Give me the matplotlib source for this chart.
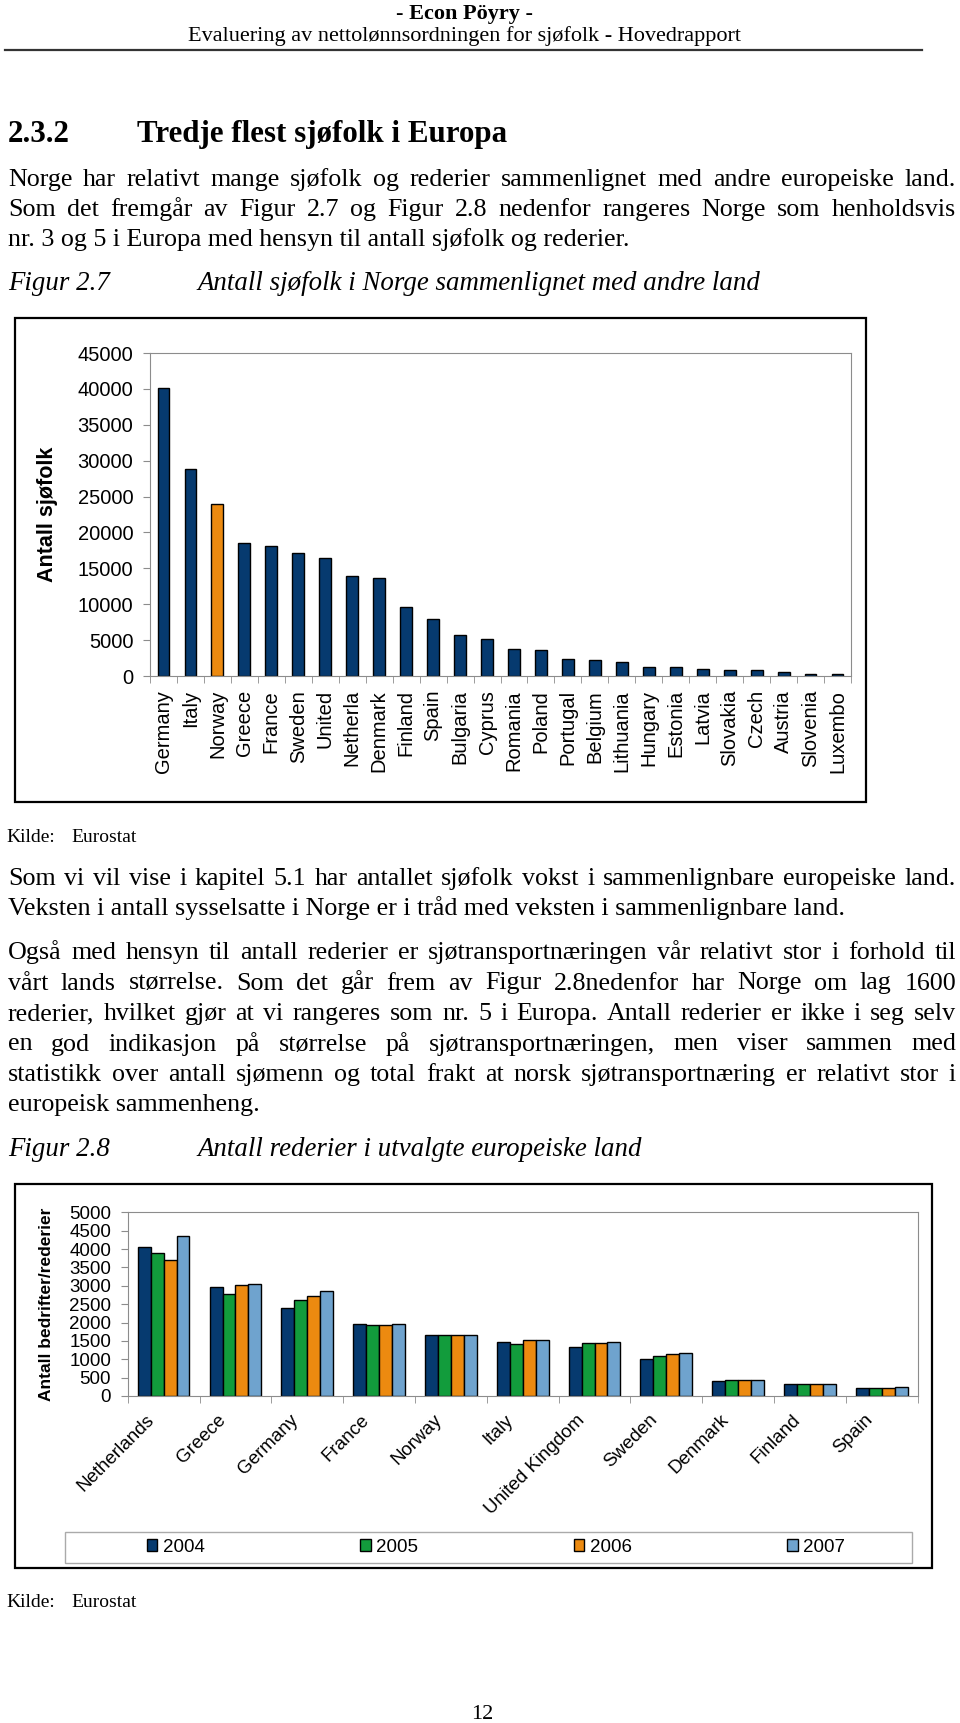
import numpy as np
import matplotlib.pyplot as plt
from matplotlib.patches import Rectangle
from matplotlib.lines import Line2D
from matplotlib.transforms import ScaledTranslation

W, H, DPI = 960, 1723, 100
SERIF = "Liberation Serif"
SANS = "Liberation Sans"
plt.rcParams["font.family"] = [SANS, "DejaVu Sans"]

NAVY = "#063A6F"
ORANGE = "#EC8A10"
GREEN = "#129C3C"
LIGHT = "#6FA3CE"
GREY = "#8C8C8C"

# Figur 2.7 - antall sjøfolk
land = ["Germany", "Italy", "Norway", "Greece", "France", "Sweden", "United",
        "Netherla", "Denmark", "Finland", "Spain", "Bulgaria", "Cyprus",
        "Romania", "Poland", "Portugal", "Belgium", "Lithuania", "Hungary",
        "Estonia", "Latvia", "Slovakia", "Czech", "Austria", "Slovenia", "Luxembo"]
sjofolk = [40100, 28900, 23900, 18550, 18100, 17150, 16450, 13900, 13680, 9650,
           8000, 5680, 5210, 3820, 3560, 2370, 2160, 1960, 1260, 1260, 1020,
           790, 790, 560, 330, 330]

# Figur 2.8 - antall rederier
land2 = ["Netherlands", "Greece", "Germany", "France", "Norway", "Italy",
         "United Kingdom", "Sweden", "Denmark", "Finland", "Spain"]
aar = ["2004", "2005", "2006", "2007"]
r2004 = [4065, 2975, 2405, 1960, 1670, 1460, 1345, 1015, 410, 330, 215]
r2005 = [3885, 2770, 2615, 1925, 1670, 1415, 1435, 1090, 435, 330, 210]
r2006 = [3700, 3015, 2720, 1925, 1670, 1525, 1435, 1135, 435, 330, 210]
r2007 = [4355, 3050, 2870, 1960, 1670, 1525, 1460, 1160, 435, 330, 255]

fig = plt.figure(figsize=(W / DPI, H / DPI), dpi=DPI)
fig.patch.set_facecolor("white")
rend = fig.canvas.get_renderer()


def fx(x):
    return x / W


def fy(y):
    return 1 - y / H


BODY = 18.7
CAP = 19.4


def line(x, y, s, size=BODY, width=None, **kw):
    if width is None:
        fig.text(fx(x), fy(y), s, fontsize=size, family=SERIF, va="baseline", **kw)
        return
    words = s.split(" ")
    objs = [fig.text(fx(x), fy(y), w, fontsize=size, family=SERIF, va="baseline", **kw)
            for w in words]
    widths = [o.get_window_extent(rend).width for o in objs]
    gap = (width - sum(widths)) / (len(words) - 1)
    pos = x
    for o, w in zip(objs, widths):
        o.set_x(fx(pos))
        pos += w + gap


def avsnitt(lines, y0, step, left=8, right=956):
    for i, s in enumerate(lines):
        last = i == len(lines) - 1
        line(left, y0 + i * step, s, width=None if last else right - left)


# topptekst
fig.text(fx(464), fy(19), "- Econ Pöyry -", fontsize=16, family=SERIF,
         weight="bold", ha="center", va="baseline")
fig.text(fx(464), fy(41), "Evaluering av nettolønnsordningen for sjøfolk - Hovedrapport",
         fontsize=16, family=SERIF, ha="center", va="baseline")
fig.add_artist(Line2D([fx(5), fx(922)], [fy(50), fy(50)], color="#333333", lw=1.6))

line(8, 142, "2.3.2", size=22.3, weight="bold")
line(137, 142, "Tredje flest sjøfolk i Europa", size=22.3, weight="bold")

avsnitt(["Norge har relativt mange sjøfolk og rederier sammenlignet med andre europeiske land.",
         "Som det fremgår av Figur 2.7 og Figur 2.8 nedenfor rangeres Norge som henholdsvis",
         "nr. 3 og 5 i Europa med hensyn til antall sjøfolk og rederier."], 186, 30)

line(8, 290, "Figur 2.7", size=CAP, style="italic")
line(197, 290, "Antall sjøfolk i Norge sammenlignet med andre land", size=CAP, style="italic")

# Figur 2.7
fig.add_artist(Rectangle((fx(15), fy(802)), (866 - 15) / W, (802 - 318) / H,
                         transform=fig.transFigure, fill=False, edgecolor="black", lw=1.6))
ax1 = fig.add_axes([fx(150), fy(676), (851 - 150) / W, (676 - 353) / H])
x = np.arange(len(land))
farger = [ORANGE if l == "Norway" else NAVY for l in land]
ax1.bar(x, sjofolk, width=0.44, color=farger, edgecolor="black", linewidth=1)
ax1.set_xlim(-0.5, len(land) - 0.5)
ax1.set_ylim(0, 45000)
ax1.set_yticks(np.arange(0, 45001, 5000))
ax1.set_xticks(x)
ax1.set_xticklabels(land, rotation=90, fontsize=14.5)
ax1.set_xticks(np.arange(-0.5, len(land), 1), minor=True)
ax1.tick_params(axis="x", which="major", length=0, pad=10)
ax1.tick_params(axis="x", which="minor", length=5, color=GREY)
ax1.tick_params(axis="y", length=5, color=GREY, pad=7, labelsize=14.5)
for s in ax1.spines.values():
    s.set_color(GREY)
fig.text(fx(48), fy(514), "Antall sjøfolk", rotation=90, fontsize=15.5,
         weight="bold", ha="center", va="center")

line(6, 842, "Kilde:", size=14)
line(71, 842, "Eurostat", size=14)

avsnitt(["Som vi vil vise i kapitel 5.1 har antallet sjøfolk vokst i sammenlignbare europeiske land.",
         "Veksten i antall sysselsatte i Norge er i tråd med veksten i sammenlignbare land."], 885, 30)
avsnitt(["Også med hensyn til antall rederier er sjøtransportnæringen vår relativt stor i forhold til",
         "vårt lands størrelse. Som det går frem av Figur 2.8nedenfor har Norge om lag 1600",
         "rederier, hvilket gjør at vi rangeres som nr. 5 i Europa. Antall rederier er ikke i seg selv",
         "en god indikasjon på størrelse på sjøtransportnæringen, men viser sammen med",
         "statistikk over antall sjømenn og total frakt at norsk sjøtransportnæring er relativt stor i",
         "europeisk sammenheng."], 959, 30.5)

line(8, 1156, "Figur 2.8", size=CAP, style="italic")
line(197, 1156, "Antall rederier i utvalgte europeiske land", size=CAP, style="italic")

# Figur 2.8
fig.add_artist(Rectangle((fx(15), fy(1568)), (932 - 15) / W, (1568 - 1184) / H,
                         transform=fig.transFigure, fill=False, edgecolor="black", lw=1.6))
ax2 = fig.add_axes([fx(127.7), fy(1396), (917.7 - 127.7) / W, (1396 - 1212.3) / H])
x2 = np.arange(len(land2))
bw = 0.18
serier = [r2004, r2005, r2006, r2007]
farger2 = [NAVY, GREEN, ORANGE, LIGHT]
for i, (verdier, farge, navn) in enumerate(zip(serier, farger2, aar)):
    ax2.bar(x2 + (i - 1.5) * bw, verdier, width=bw, color=farge,
            edgecolor="black", linewidth=1, label=navn)
ax2.set_xlim(-0.5, len(land2) - 0.5)
ax2.set_ylim(0, 5000)
ax2.set_yticks(np.arange(0, 5001, 500))
ax2.set_xticks(x2)
ax2.set_xticklabels(land2, rotation=45, ha="right", va="top",
                    rotation_mode="anchor", fontsize=13.5)
ax2.set_xticks(np.arange(-0.5, len(land2), 1), minor=True)
ax2.tick_params(axis="x", which="major", length=0, pad=11)
ax2.tick_params(axis="x", which="minor", length=5, color=GREY)
ax2.tick_params(axis="y", length=5, color=GREY, pad=7, labelsize=13.5)
for lbl in ax2.get_xticklabels():
    lbl.set_transform(lbl.get_transform() + ScaledTranslation(-18 / DPI, 0, fig.dpi_scale_trans))
for s in ax2.spines.values():
    s.set_color(GREY)
fig.text(fx(47), fy(1304), "Antall bedrifter/rederier", rotation=90, fontsize=12.5,
         weight="bold", ha="center", va="center")

fig.add_artist(Rectangle((fx(64.6), fy(1563)), (911.7 - 64.6) / W, (1563 - 1532) / H,
                         transform=fig.transFigure, fill=False, edgecolor="#AAAAAA", lw=1))
fig.legend(*ax2.get_legend_handles_labels(), ncol=4, loc="center",
           bbox_to_anchor=(fx(496), fy(1547.5)), frameon=False, fontsize=13.5,
           handlelength=0.55, handleheight=0.6, handletextpad=0.3, columnspacing=8.3)

line(6, 1607, "Kilde:", size=14)
line(71, 1607, "Eurostat", size=14)
fig.text(fx(482), fy(1719), "12", fontsize=16, family=SERIF, ha="center", va="baseline")

fig.savefig("out.png", dpi=DPI, facecolor="white")
